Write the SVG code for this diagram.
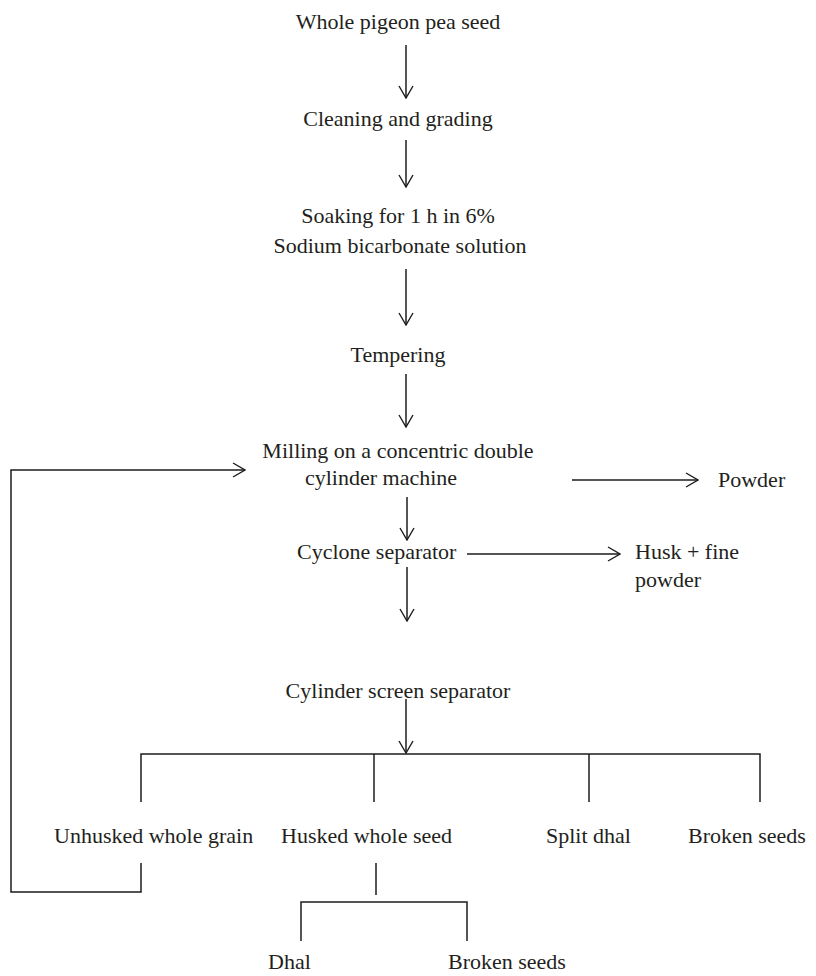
<svg xmlns="http://www.w3.org/2000/svg" width="816" height="976" viewBox="0 0 816 976">
  <defs>
    <marker id="arrow" viewBox="0 0 14 16" refX="13" refY="8" markerWidth="14" markerHeight="16" markerUnits="userSpaceOnUse" orient="auto">
      <path d="M1,1 L13,8 L1,15" fill="none" stroke="#1c1c1c" stroke-width="1.4"/>
    </marker>
    <style>
      text { font-family: "Liberation Serif", "Times New Roman", serif; font-size: 22px; fill: #231f20; }
      .mid { text-anchor: middle; }
      .link { fill: none; stroke: #1c1c1c; stroke-width: 1.5; }
      .arr { marker-end: url(#arrow); }
    </style>
  </defs>
  <rect width="816" height="976" fill="#ffffff"/>

  <!-- process steps -->
  <g id="whole-seed"><text class="mid" x="398" y="29">Whole pigeon pea seed</text></g>
  <g id="cleaning"><text class="mid" x="398" y="126">Cleaning and grading</text></g>
  <g id="soaking">
    <text class="mid" x="398" y="223">Soaking for 1 h in 6%</text>
    <text class="mid" x="400" y="253">Sodium bicarbonate solution</text>
  </g>
  <g id="tempering"><text class="mid" x="398" y="362">Tempering</text></g>
  <g id="milling">
    <text class="mid" x="398" y="458">Milling on a concentric double</text>
    <text class="mid" x="381" y="485">cylinder machine</text>
  </g>
  <g id="powder"><text x="718" y="487">Powder</text></g>
  <g id="cyclone"><text x="297" y="559">Cyclone separator</text></g>
  <g id="husk">
    <text x="635" y="559">Husk + fine</text>
    <text x="635" y="587">powder</text>
  </g>
  <g id="screen"><text class="mid" x="398" y="698">Cylinder screen separator</text></g>

  <!-- screen fractions -->
  <g id="unhusked"><text x="54" y="843">Unhusked whole grain</text></g>
  <g id="husked"><text x="281" y="843">Husked whole seed</text></g>
  <g id="split"><text x="546" y="843">Split dhal</text></g>
  <g id="broken-1"><text x="688" y="843">Broken seeds</text></g>
  <g id="dhal"><text x="268" y="969">Dhal</text></g>
  <g id="broken-2"><text x="448" y="969">Broken seeds</text></g>

  <!-- connectors -->
  <g id="connectors">
    <line class="link arr" x1="406" y1="45" x2="406" y2="98"/>
    <line class="link arr" x1="406" y1="140" x2="406" y2="187"/>
    <line class="link arr" x1="406" y1="269" x2="406" y2="325"/>
    <line class="link arr" x1="406" y1="374" x2="406" y2="427"/>
    <line class="link arr" x1="407" y1="497" x2="407" y2="540"/>
    <line class="link arr" x1="572" y1="480" x2="698" y2="480"/>
    <line class="link arr" x1="467" y1="554" x2="620" y2="554"/>
    <line class="link arr" x1="407" y1="567" x2="407" y2="621"/>
    <line class="link arr" x1="406" y1="699" x2="406" y2="753"/>

    <!-- recycle of unhusked grain back to the mill -->
    <polyline class="link arr" points="141,863 141,892 11,892 11,470 245,470"/>

    <!-- screen separator outlets -->
    <polyline class="link" points="141,802 141,754 760,754 760,802"/>
    <line class="link" x1="374" y1="754" x2="374" y2="802"/>
    <line class="link" x1="589" y1="754" x2="589" y2="802"/>

    <!-- husked seed split -->
    <line class="link" x1="376" y1="863" x2="376" y2="895"/>
    <polyline class="link" points="301,941 301,902 467,902 467,941"/>
  </g>
</svg>
